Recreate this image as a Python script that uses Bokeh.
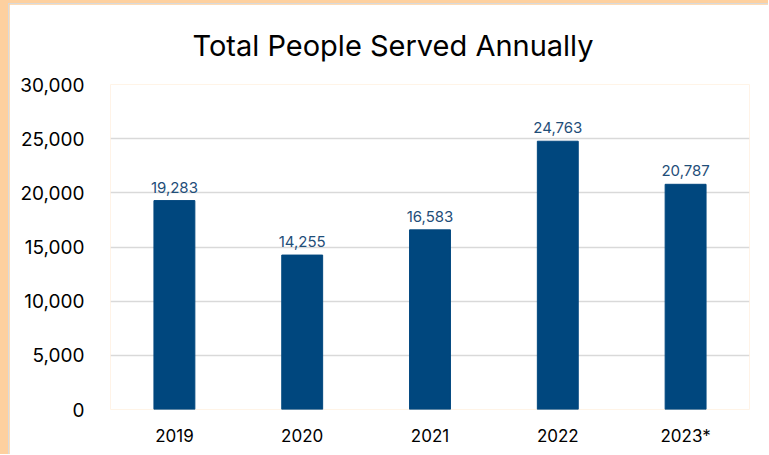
from bokeh.plotting import figure
from bokeh.models import ColumnDataSource, LabelSet, NumeralTickFormatter, Range1d, FactorRange
from bokeh.core.properties import value
from bokeh.layouts import column
from bokeh.embed import file_html
from bokeh.resources import INLINE

years = ["2019", "2020", "2021", "2022", "2023*"]
people = [19283, 14255, 16583, 24763, 20787]
labels = [f"{v:,}" for v in people]
yticks = [0, 5000, 10000, 15000, 20000, 25000, 30000]
title = "Total People Served Annually"

FONT = "Inter"
src = ColumnDataSource(dict(x=years, top=people, lab=labels))

p = figure(width=760, height=451, x_range=FactorRange(*years), y_range=Range1d(0, 30000),
           output_backend="svg", toolbar_location=None,
           min_border_left=101, min_border_right=20, min_border_top=80, min_border_bottom=46)
p.title.text = title
p.title.align = "left"
p.title.offset = 82
p.title.text_font = FONT
p.title.text_font_style = "normal"
p.title.text_font_size = "29px"
p.title.text_color = "#000000"
p.title.standoff = 43
p.background_fill_color = "white"
p.border_fill_color = "white"

p.vbar(x="x", top="top", width=0.32, source=src, color="#00477E")
p.add_layout(LabelSet(x="x", y="top", text="lab", source=src, text_align="center",
                      text_baseline="bottom", y_offset=8, text_font_size="15px",
                      text_color="#1F4E79", text_font=value(FONT)))

p.outline_line_color = None
p.xgrid.grid_line_color = None
p.ygrid.grid_line_color = "#D9D9D9"
p.ygrid.grid_line_width = 1.5
p.yaxis.ticker = yticks
p.yaxis.formatter = NumeralTickFormatter(format="0,0")
for ax in (p.xaxis[0], p.yaxis[0]):
    ax.axis_line_color = None
    ax.major_tick_line_color = None
    ax.minor_tick_line_color = None
    ax.major_label_text_font = FONT
    ax.major_label_text_color = "#000000"
p.xaxis.major_label_text_font_size = "17px"
p.yaxis.major_label_text_font_size = "19px"
p.yaxis.major_label_standoff = 20
p.xaxis.major_label_standoff = 10
p.styles = {"border-left": "1px solid #D9D9D9", "border-top": "1px solid #D9D9D9"}

layout = column(p, styles={"background-color": "#FDD09F", "padding-left": "8px", "padding-top": "3px"})

open("out.html", "w").write(file_html(layout, INLINE))
